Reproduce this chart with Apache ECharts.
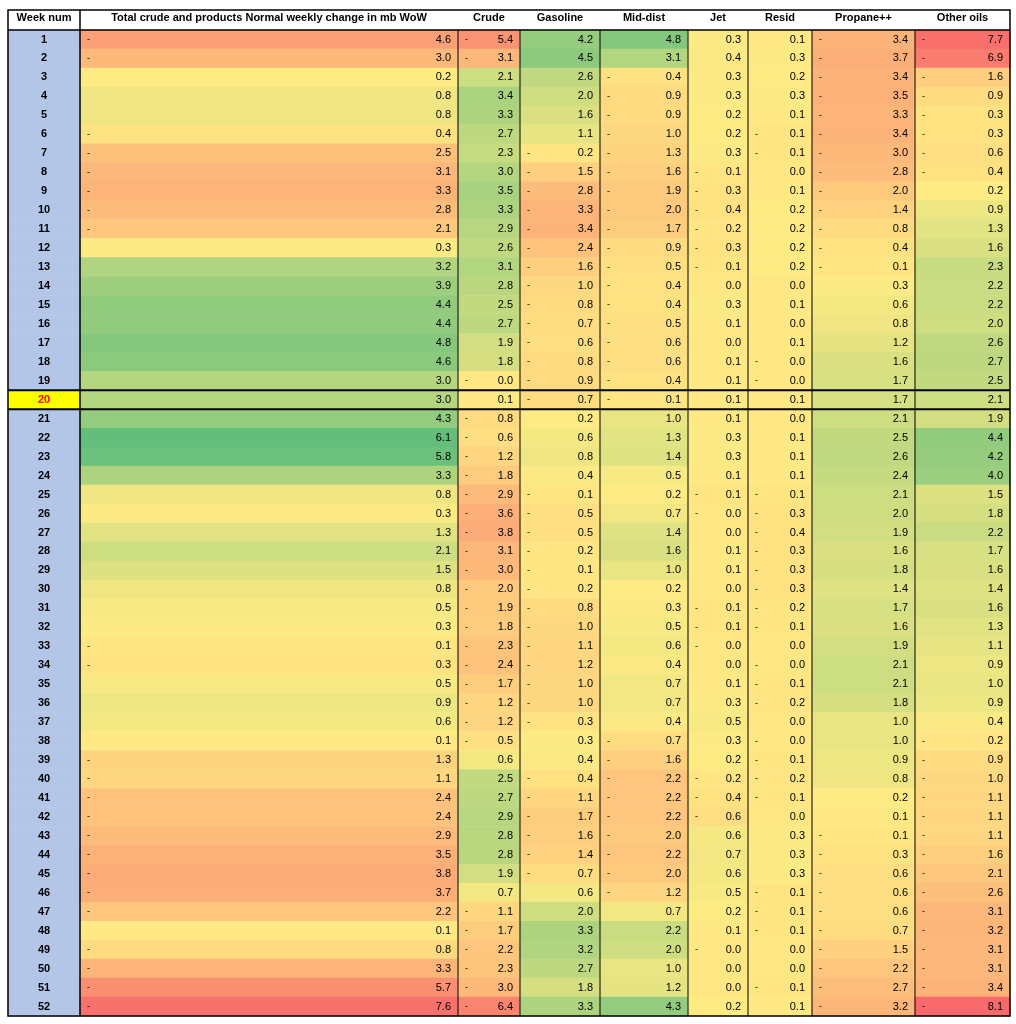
<!DOCTYPE html>
<html>
<head>
<meta charset="utf-8">
<script src="https://cdn.jsdelivr.net/npm/echarts@6/dist/echarts.min.js"></script>
<style>
  html, body { margin: 0; padding: 0; background: #fff; }
  #chart { width: 1016px; height: 1024px; }
</style>
</head>
<body>
<div id="chart"></div>
<script>
// weekly change in mb WoW, week 1..52
const weeks = Array.from({length: 52}, (_, i) => String(i + 1));
const total = [-4.6,-3.0,0.2,0.8,0.8,-0.4,-2.5,-3.1,-3.3,-2.8,-2.1,0.3,3.2,3.9,4.4,4.4,4.8,4.6,3.0,3.0,4.3,6.1,5.8,3.3,0.8,0.3,1.3,2.1,1.5,0.8,0.5,0.3,-0.1,-0.3,0.5,0.9,0.6,0.1,-1.3,-1.1,-2.4,-2.4,-2.9,-3.5,-3.8,-3.7,-2.2,0.1,-0.8,-3.3,-5.7,-7.6];
const crude = [-5.4,-3.1,2.1,3.4,3.3,2.7,2.3,3.0,3.5,3.3,2.9,2.6,3.1,2.8,2.5,2.7,1.9,1.8,-0.0,0.1,-0.8,-0.6,-1.2,-1.8,-2.9,-3.6,-3.8,-3.1,-3.0,-2.0,-1.9,-1.8,-2.3,-2.4,-1.7,-1.2,-1.2,-0.5,0.6,2.5,2.7,2.9,2.8,2.8,1.9,0.7,-1.1,-1.7,-2.2,-2.3,-3.0,-6.4];
const gasoline = [4.2,4.5,2.6,2.0,1.6,1.1,-0.2,-1.5,-2.8,-3.3,-3.4,-2.4,-1.6,-1.0,-0.8,-0.7,-0.6,-0.8,-0.9,-0.7,0.2,0.6,0.8,0.4,-0.1,-0.5,-0.5,-0.2,-0.1,-0.2,-0.8,-1.0,-1.1,-1.2,-1.0,-1.0,-0.3,0.3,0.4,-0.4,-1.1,-1.7,-1.6,-1.4,-0.7,0.6,2.0,3.3,3.2,2.7,1.8,3.3];
const midDist = [4.8,3.1,-0.4,-0.9,-0.9,-1.0,-1.3,-1.6,-1.9,-2.0,-1.7,-0.9,-0.5,-0.4,-0.4,-0.5,-0.6,-0.6,-0.4,-0.1,1.0,1.3,1.4,0.5,0.2,0.7,1.4,1.6,1.0,0.2,0.3,0.5,0.6,0.4,0.7,0.7,0.4,-0.7,-1.6,-2.2,-2.2,-2.2,-2.0,-2.2,-2.0,-1.2,0.7,2.2,2.0,1.0,1.2,4.3];
const jet = [0.3,0.4,0.3,0.3,0.2,0.2,0.3,-0.1,-0.3,-0.4,-0.2,-0.3,-0.1,0.0,0.3,0.1,0.0,0.1,0.1,0.1,0.1,0.3,0.3,0.1,-0.1,-0.0,0.0,0.1,0.1,0.0,-0.1,-0.1,-0.0,0.0,0.1,0.3,0.5,0.3,0.2,-0.2,-0.4,-0.6,0.6,0.7,0.6,0.5,0.2,0.1,-0.0,0.0,0.0,0.2];
const resid = [0.1,0.3,0.2,0.3,0.1,-0.1,-0.1,0.0,0.1,0.2,0.2,0.2,0.2,0.0,0.1,0.0,0.1,-0.0,-0.0,0.1,0.0,0.1,0.1,0.1,-0.1,-0.3,-0.4,-0.3,-0.3,-0.3,-0.2,-0.1,0.0,-0.0,-0.1,-0.2,0.0,-0.0,-0.1,-0.2,-0.1,0.0,0.3,0.3,0.3,-0.1,-0.1,-0.1,0.0,0.0,-0.1,0.1];
const propane = [-3.4,-3.7,-3.4,-3.5,-3.3,-3.4,-3.0,-2.8,-2.0,-1.4,-0.8,-0.4,-0.1,0.3,0.6,0.8,1.2,1.6,1.7,1.7,2.1,2.5,2.6,2.4,2.1,2.0,1.9,1.6,1.8,1.4,1.7,1.6,1.9,2.1,2.1,1.8,1.0,1.0,0.9,0.8,0.2,0.1,-0.1,-0.3,-0.6,-0.6,-0.6,-0.7,-1.5,-2.2,-2.7,-3.2];
const otherOils = [-7.7,-6.9,-1.6,-0.9,-0.3,-0.3,-0.6,-0.4,0.2,0.9,1.3,1.6,2.3,2.2,2.2,2.0,2.6,2.7,2.5,2.1,1.9,4.4,4.2,4.0,1.5,1.8,2.2,1.7,1.6,1.4,1.6,1.3,1.1,0.9,1.0,0.9,0.4,-0.2,-0.9,-1.0,-1.1,-1.1,-1.1,-1.6,-2.1,-2.6,-3.1,-3.2,-3.1,-3.1,-3.4,-8.1];
const headers = ['Total crude and products Normal weekly change in mb WoW','Crude','Gasoline','Mid-dist','Jet','Resid','Propane++','Other oils'];
const columns = [total, crude, gasoline, midDist, jet, resid, propane, otherOils];
const currentWeek = 20;

// layout (x boundaries of columns)
const edges = [8, 80, 458, 520, 600, 688, 748, 812, 915, 1010];
const TOP = 30, BOTTOM = 1016;
const rowH = (BOTTOM - TOP) / weeks.length;

// colour scale shared by whole table: red -> yellow -> green
const all = columns.flat();
const vMin = Math.min(...all), vMax = Math.max(...all), vMid = 0.2;
const RED = [248,105,107], YEL = [255,235,132], GRN = [99,190,123];
function mix(a, b, t) { return 'rgb(' + a.map((c, i) => Math.round(c + (b[i] - c) * t)).join(',') + ')'; }
function heat(v) {
  return v <= vMid ? mix(RED, YEL, (v - vMin) / (vMid - vMin)) : mix(YEL, GRN, (v - vMid) / (vMax - vMid));
}

const font = 'Liberation Sans';
const grids = [], xAxes = [], yAxes = [], series = [];
for (let c = 0; c < edges.length - 1; c++) {
  const w = edges[c + 1] - edges[c];
  grids.push({left: edges[c], width: w, top: TOP, height: BOTTOM - TOP, show: false});
  xAxes.push({type: 'category', gridIndex: c, position: 'top', data: [c === 0 ? 'Week num' : headers[c - 1]],
    axisLine: {show: false}, axisTick: {show: false},
    axisLabel: {fontFamily: font, fontSize: 11, fontWeight: 'bold', color: '#000', margin: 7}});
  yAxes.push({type: 'category', gridIndex: c, inverse: true, data: weeks, show: false});
  if (c === 0) {
    series.push({type: 'heatmap', xAxisIndex: c, yAxisIndex: c,
      data: weeks.map((wk, i) => ({value: [0, i, +wk],
        itemStyle: {color: i + 1 === currentWeek ? '#ffff00' : '#b4c6e7'},
        label: {color: i + 1 === currentWeek ? '#ff0000' : '#000'}})),
      label: {show: true, fontFamily: font, fontSize: 11, fontWeight: 'bold', formatter: p => weeks[p.value[1]]},
      emphasis: {disabled: true}});
  } else {
    const vals = columns[c - 1];
    series.push({type: 'heatmap', xAxisIndex: c, yAxisIndex: c,
      data: vals.map((v, i) => ({value: [0, i, v], itemStyle: {color: heat(v)}})),
      label: {show: true, fontFamily: font, fontSize: 11, color: '#000',
        formatter: p => {
          const v = vals[p.value[1]];
          const neg = v < 0 || Object.is(v, -0);
          return '{m|' + (neg ? '-' : '') + '}{v|' + Math.abs(v).toFixed(1) + '}';
        },
        rich: {m: {width: w - 44, align: 'left', fontSize: 9}, v: {width: 30, align: 'right', fontSize: 11}}},
      emphasis: {disabled: true}});
  }
}

// table rules drawn on top
const rules = [{type: 'rect', z: 100, shape: {x: 8, y: 10, width: 1002, height: BOTTOM - 10},
  style: {fill: 'none', stroke: '#000', lineWidth: 1.5}},
  {type: 'line', z: 100, shape: {x1: 8, y1: TOP, x2: 1010, y2: TOP}, style: {stroke: '#000', lineWidth: 1.5}}];
edges.slice(1, -1).forEach((x, k) => rules.push({type: 'line', z: 100,
  shape: {x1: x, y1: k === 0 ? 10 : TOP, x2: x, y2: BOTTOM}, style: {stroke: '#000', lineWidth: k === 0 ? 1.5 : 1}}));
[currentWeek - 1, currentWeek].forEach(r => rules.push({type: 'line', z: 100,
  shape: {x1: 8, y1: TOP + r * rowH, x2: 1010, y2: TOP + r * rowH}, style: {stroke: '#000', lineWidth: 2}}));

const chart = echarts.init(document.getElementById('chart'));
chart.setOption({
  animation: false,
  grid: grids, xAxis: xAxes, yAxis: yAxes, series: series,
  graphic: rules
});
</script>
</body>
</html>
